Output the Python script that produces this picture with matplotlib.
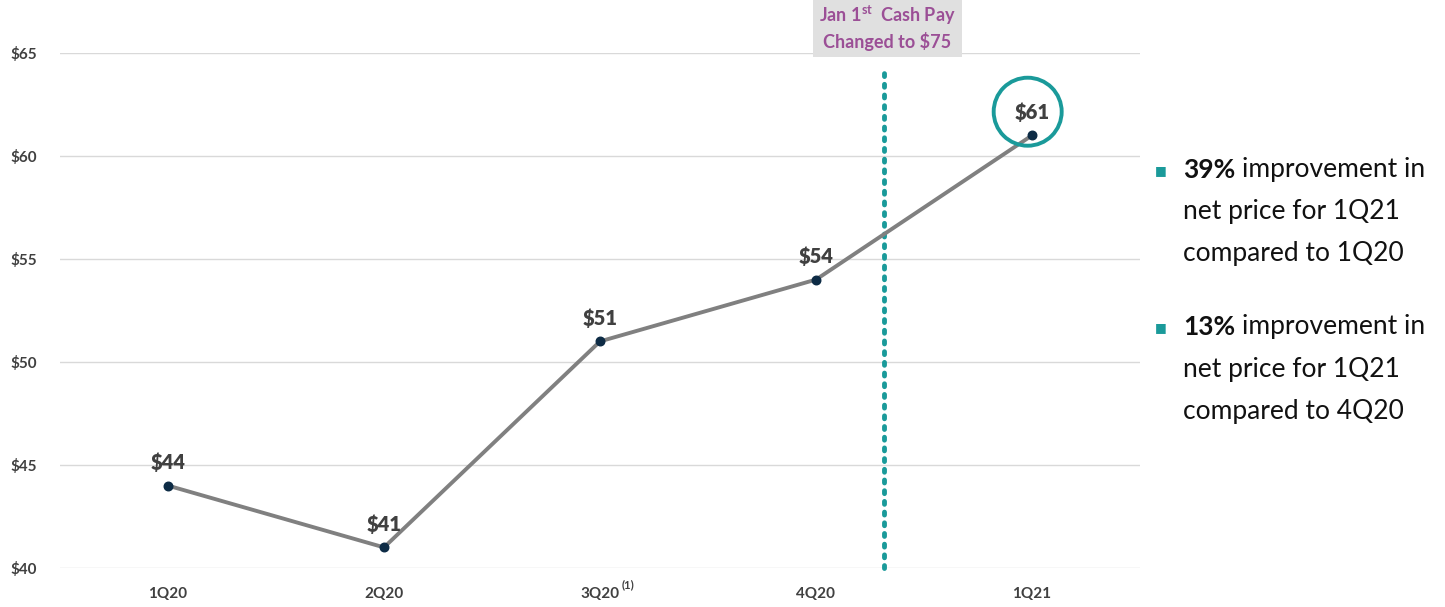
import matplotlib.pyplot as plt
from matplotlib.patches import Ellipse

plt.rcParams['font.family'] = ['Lato', 'DejaVu Sans']

quarters = ['1Q20', '2Q20', '3Q20', '4Q20', '1Q21']
net_price = [44, 41, 51, 54, 61]
yticks = [40, 45, 50, 55, 60, 65]
notes = [('39%', ['improvement in', 'net price for 1Q21', 'compared to 1Q20']),
         ('13%', ['improvement in', 'net price for 1Q21', 'compared to 4Q20'])]

teal = '#1a9a9a'
grey_txt = '#404040'

fig = plt.figure(figsize=(14.45, 6.07), dpi=100)
ax = fig.add_axes([60 / 1445, 1 - 568 / 607, 1080 / 1445, 515 / 607])

x = list(range(len(quarters)))
ax.plot(x, net_price, color='#808080', lw=2.8, zorder=3)
ax.scatter(x, net_price, s=38, color='#0d2b45', zorder=4)

for xi, v in zip(x, net_price):
    ax.annotate(f'${v}', (xi, v), xytext=(0, 10), textcoords='offset points',
                ha='center', va='bottom', fontsize=14.5, fontweight='heavy', color=grey_txt)

# circle around the latest value
ax.add_patch(Ellipse((3.98, 62.15), width=2 * 34 / 216, height=2 * 34 / 20.6,
                     fill=False, ec=teal, lw=2.8, zorder=5))

# cash pay change marker
ax.axvline(3.315, ymin=0.0, ymax=0.97, color=teal, lw=3.5, ls=(0, (0.6, 1.6)),
           dash_capstyle='round', zorder=2, clip_on=False)
ax.text(3.33, 66.25, 'Jan 1$^{\\mathregular{st}}$  Cash Pay\nChanged to $75', ha='center', va='center',
        fontsize=13, fontweight='bold', color='#9b4f96', linespacing=1.3,
        bbox=dict(boxstyle='square,pad=0.35', fc='#e0e0e0', ec='none'))

ax.set_xlim(-0.5, 4.5)
ax.set_ylim(40, 65)
ax.set_yticks(yticks)
ax.set_yticklabels([f'${t}' for t in yticks], fontsize=11, fontweight='bold', color=grey_txt)
ax.set_xticks(x)
ax.set_xticklabels(quarters, fontsize=11, fontweight='bold', color=grey_txt)
ax.text(2.1, -0.022, '(1)', transform=ax.get_xaxis_transform(), fontsize=8,
        fontweight='bold', color=grey_txt, ha='left', va='top')
ax.tick_params(length=0, pad=14)
ax.tick_params(axis='y', pad=36)
for lbl in ax.get_yticklabels():
    lbl.set_horizontalalignment('left')
ax.grid(axis='y', color='#d9d9d9', lw=1)
for s in ax.spines.values():
    s.set_visible(False)

# side commentary
for (pct, lines), ypx in zip(notes, [170, 327]):
    yf = 1 - ypx / 607
    fig.text(1155 / 1445, yf, '\u25a0', color=teal, fontsize=9, ha='left', va='center')
    t = fig.text(1183 / 1445, yf, pct, fontsize=19, fontweight='bold', color='#111111',
                 ha='left', va='center')
    ax.annotate(lines[0], xy=(1, 0), xycoords=t, xytext=(5, 0), textcoords='offset points',
                fontsize=19, color='#111111', ha='left', va='bottom', annotation_clip=False)
    for i, line in enumerate(lines[1:], start=1):
        fig.text(1183 / 1445, yf - i * 42 / 607, line, fontsize=19, color='#111111',
                 ha='left', va='center')

fig.savefig('out.png', dpi=100)
